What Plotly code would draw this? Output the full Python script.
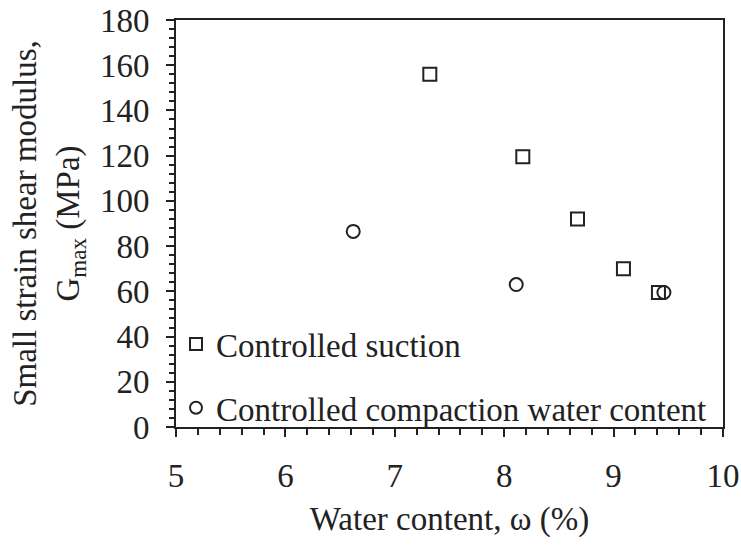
import plotly.graph_objects as go

# Controlled suction series
suction_w = [7.32, 8.17, 8.67, 9.09, 9.41]
suction_g = [156.0, 119.5, 92.0, 70.0, 59.5]

# Controlled compaction water content series
compaction_w = [6.62, 8.11, 9.46]
compaction_g = [86.5, 63.0, 59.5]

x_ticks = [5, 6, 7, 8, 9, 10]
y_ticks = [0, 20, 40, 60, 80, 100, 120, 140, 160, 180]

FONT = "Liberation Serif"
INK = "#222222"
FS = 33

fig = go.Figure()
fig.add_trace(go.Scatter(
    x=suction_w, y=suction_g, mode="markers", name="Controlled suction",
    legendgroup="a",
    marker=dict(symbol="square-open", size=13, color=INK, line=dict(width=2, color=INK)),
))
fig.add_trace(go.Scatter(
    x=compaction_w, y=compaction_g, mode="markers", name="Controlled compaction water content",
    legendgroup="b",
    marker=dict(symbol="circle-open", size=13, color=INK, line=dict(width=2, color=INK)),
))

axis_common = dict(
    showline=True, linecolor=INK, linewidth=2, mirror=True, automargin=False,
    showgrid=False, zeroline=False, ticks="outside", tickcolor=INK,
    tickwidth=2, ticklen=8,
    tickfont=dict(family=FONT, size=FS, color=INK),
)

fig.update_xaxes(
    range=[5, 10], tickvals=x_ticks, ticklabelstandoff=10,
    minor=dict(dtick=0.2, ticks="outside", ticklen=6, tickcolor=INK, tickwidth=1.5),
    title=dict(text="Water content, ω (%)", font=dict(family=FONT, size=FS, color=INK), standoff=14),
    **axis_common,
)
fig.update_yaxes(
    range=[0, 180], tickvals=y_ticks, ticklabelstandoff=10,
    minor=dict(dtick=4, ticks="outside", ticklen=5, tickcolor=INK, tickwidth=1.5),
    title=dict(text="Small strain shear modulus,<br>G<sub>max</sub> (MPa)",
               font=dict(family=FONT, size=FS, color=INK), standoff=10),
    **axis_common,
)

fig.update_layout(
    width=741, height=546,
    margin=dict(l=176, r=18, t=20, b=119),
    paper_bgcolor="white", plot_bgcolor="white",
    font=dict(family=FONT, color=INK),
    legend=dict(
        x=0.0, y=-0.022, xanchor="left", yanchor="bottom",
        bgcolor="rgba(0,0,0,0)", font=dict(family=FONT, size=FS, color=INK),
        traceorder="grouped", tracegroupgap=18, itemsizing="constant",
        itemwidth=30,
    ),
)

fig.write_html("out.html")
